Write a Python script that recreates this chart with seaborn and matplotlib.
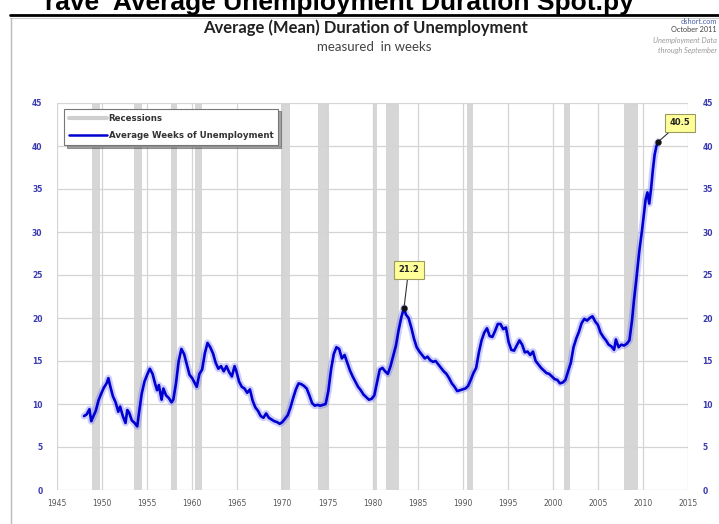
import matplotlib
matplotlib.use("Agg")
import matplotlib.pyplot as plt
from matplotlib.lines import Line2D
import seaborn as sns
import pandas as pd

# Average (mean) duration of unemployment, weeks
years = [
    1948.0, 1948.3, 1948.6, 1948.8, 1949.0, 1949.3, 1949.6, 1949.9, 1950.2, 1950.5,
    1950.7, 1950.9, 1951.2, 1951.5, 1951.8, 1952.0, 1952.3, 1952.6, 1952.8, 1953.0,
    1953.3, 1953.6, 1953.9, 1954.1, 1954.4, 1954.7, 1955.0, 1955.3, 1955.6, 1955.9,
    1956.1, 1956.3, 1956.6, 1956.8, 1957.1, 1957.4, 1957.7, 1957.9, 1958.2, 1958.5,
    1958.8, 1959.1, 1959.4, 1959.7, 1960.0, 1960.3, 1960.5, 1960.8, 1961.1, 1961.4,
    1961.7, 1962.0, 1962.3, 1962.6, 1962.9, 1963.2, 1963.5, 1963.8, 1964.1, 1964.4,
    1964.7, 1964.9, 1965.2, 1965.5, 1965.8, 1966.1, 1966.4, 1966.7, 1967.0, 1967.3,
    1967.6, 1967.9, 1968.2, 1968.5, 1968.8, 1969.1, 1969.4, 1969.7, 1970.0, 1970.3,
    1970.6, 1970.9, 1971.2, 1971.5, 1971.8, 1972.1, 1972.4, 1972.7, 1973.0, 1973.3,
    1973.6, 1973.9, 1974.2, 1974.5, 1974.8, 1975.1, 1975.4, 1975.7, 1976.0, 1976.3,
    1976.6, 1976.9, 1977.2, 1977.5, 1977.8, 1978.1, 1978.4, 1978.7, 1979.0, 1979.3,
    1979.6, 1979.9, 1980.2, 1980.5, 1980.8, 1981.1, 1981.4, 1981.7, 1982.0, 1982.3,
    1982.6, 1982.9, 1983.2, 1983.5, 1983.7, 1984.0, 1984.3, 1984.6, 1984.9, 1985.2,
    1985.5, 1985.8, 1986.1, 1986.4, 1986.7, 1987.0, 1987.3, 1987.6, 1987.9, 1988.2,
    1988.5, 1988.8, 1989.1, 1989.4, 1989.7, 1990.0, 1990.3, 1990.6, 1990.9, 1991.2,
    1991.5, 1991.8, 1992.1, 1992.4, 1992.7, 1993.0, 1993.3, 1993.6, 1993.9, 1994.2,
    1994.5, 1994.8, 1995.1, 1995.4, 1995.7, 1996.0, 1996.3, 1996.6, 1996.9, 1997.2,
    1997.5, 1997.8, 1998.1, 1998.4, 1998.7, 1999.0, 1999.3, 1999.6, 1999.9, 2000.2,
    2000.5, 2000.8, 2001.1, 2001.4, 2001.7, 2002.0, 2002.3, 2002.6, 2002.9, 2003.2,
    2003.5, 2003.8, 2004.1, 2004.4, 2004.7, 2005.0, 2005.3, 2005.6, 2005.9, 2006.2,
    2006.5, 2006.8, 2007.0, 2007.3, 2007.6, 2007.9, 2008.2, 2008.5, 2008.8, 2009.0,
    2009.3, 2009.6, 2009.9, 2010.1, 2010.3, 2010.5, 2010.7, 2010.9, 2011.1, 2011.3,
    2011.5, 2011.7,
]
weeks = [
    8.6, 8.8, 9.4, 8.0, 8.5, 9.2, 10.4, 11.2, 11.9, 12.4,
    13.0, 12.1, 10.9, 10.2, 9.1, 9.7, 8.6, 7.8, 9.3, 9.0,
    8.1, 7.8, 7.4, 9.0, 11.2, 12.6, 13.4, 14.1, 13.5, 12.3,
    11.6, 12.2, 10.5, 11.8, 11.0, 10.7, 10.2, 10.5, 12.4, 15.0,
    16.4, 15.8, 14.6, 13.4, 13.0, 12.4, 12.0, 13.5, 14.0, 15.9,
    17.1, 16.6, 15.9, 14.8, 14.1, 14.4, 13.8, 14.4, 13.7, 13.2,
    14.4, 13.8, 12.6, 12.0, 11.8, 11.3, 11.7, 10.4, 9.6, 9.2,
    8.6, 8.4, 8.9, 8.4, 8.2, 8.0, 7.9, 7.7, 7.9, 8.3,
    8.7, 9.6, 10.7, 11.7, 12.4, 12.3, 12.1, 11.8, 11.0, 10.1,
    9.8, 9.9, 9.8, 9.9, 10.0, 11.5, 14.0, 15.8, 16.6, 16.4,
    15.3, 15.7, 14.8, 13.9, 13.2, 12.6, 12.0, 11.6, 11.1, 10.8,
    10.5, 10.6, 11.0, 12.5, 14.0, 14.2, 13.8, 13.5, 14.4, 15.6,
    16.8, 18.6, 20.1, 21.2, 20.4, 20.0, 18.9, 17.6, 16.6, 16.1,
    15.7, 15.3, 15.5, 15.1, 14.9, 15.0, 14.6, 14.2, 13.8, 13.5,
    13.0, 12.4, 12.0, 11.5, 11.6, 11.7, 11.8, 12.1, 12.8, 13.6,
    14.2, 16.0, 17.4, 18.3, 18.8, 17.9, 17.8, 18.5, 19.3, 19.3,
    18.7, 18.9, 17.2, 16.3, 16.2, 16.8, 17.4, 16.9, 16.0, 16.1,
    15.7, 16.1, 15.0, 14.6, 14.2, 13.9, 13.6, 13.5, 13.2, 12.9,
    12.8, 12.4, 12.5, 12.8, 13.8, 14.8, 16.6, 17.6, 18.4, 19.4,
    19.9, 19.7, 20.0, 20.2, 19.6, 19.2, 18.3, 17.8, 17.4, 16.9,
    16.7, 16.3, 17.5, 16.6, 16.9, 16.8, 17.0, 17.4, 19.8, 22.0,
    24.8, 27.8, 30.2, 32.0, 33.8, 34.6, 33.3, 35.0, 37.2, 39.0,
    40.0, 40.5,
]

# NBER recessions (start, end)
recession_start = [1948.9, 1953.5, 1957.6, 1960.3, 1969.9, 1973.9, 1980.0, 1981.5, 1990.5, 2001.2, 2007.9]
recession_end = [1949.8, 1954.4, 1958.3, 1961.1, 1970.9, 1975.2, 1980.5, 1982.9, 1991.2, 2001.9, 2009.5]

x_ticks = list(range(1945, 2016, 5))
y_ticks = list(range(0, 46, 5))

# Labelled points
peak_1983 = (1983.5, 21.2)
last_point = (2011.7, 40.5)

df = pd.DataFrame({"year": years, "weeks": weeks})

sns.set_style("white")
plt.rcParams["font.family"] = ["DejaVu Sans"]

fig = plt.figure(figsize=(7.19, 5.24), dpi=100)
W, H = 719, 524


def fx(px):
    return px / W


def fy(py):
    return 1 - py / H


ax = fig.add_axes([fx(57), fy(490), fx(688) - fx(57), fy(103) - fy(490)])

# recession shading
for s, e in zip(recession_start, recession_end):
    ax.axvspan(s, e, color="#d6d6d6", lw=0, zorder=0.5)

# glow under the main line, then the line itself
sns.lineplot(data=df, x="year", y="weeks", ax=ax, color="#5a5aff", lw=5.0,
             alpha=0.3, zorder=3, legend=False)
sns.lineplot(data=df, x="year", y="weeks", ax=ax, color="#0000d0", lw=1.9,
             zorder=4, legend=False)

ax.set_xlim(1945, 2015)
ax.set_ylim(0, 45)
ax.set_xticks(x_ticks)
ax.set_yticks(y_ticks)
ax.set_xlabel("")
ax.set_ylabel("")
ax.grid(True, color="#d4d4d4", lw=0.9, zorder=0)
ax.set_axisbelow(True)
for sp in ax.spines.values():
    sp.set_visible(False)

ax.tick_params(axis="y", which="both", left=False, right=False,
               labelleft=True, labelright=True, labelsize=5.5,
               labelcolor="#3b3bb0", pad=7)
ax.tick_params(axis="x", bottom=False, labelsize=5.5, labelcolor="#555555", pad=3)
for lab in ax.get_yticklabels():
    lab.set_fontweight("bold")

# annotations
for (px, py), txt, off in [(peak_1983, "21.2", (1984.0, 25.6)),
                           (last_point, "40.5", (2014.1, 42.7))]:
    ax.plot([px], [py], "o", color="#111111", ms=3.5, zorder=6)
    ax.annotate(txt, xy=(px, py), xytext=off, ha="center", va="center",
                fontsize=6, fontweight="bold", color="#222222", zorder=7,
                bbox=dict(boxstyle="square,pad=0.55", fc="#ffff99", ec="#9a9a60", lw=0.8),
                arrowprops=dict(arrowstyle="-", color="#333333", lw=0.8,
                                shrinkA=0, shrinkB=2))

# legend
handles = [Line2D([], [], color="#cfcfcf", lw=3),
           Line2D([], [], color="#0000d0", lw=1.8)]
leg = ax.legend(handles, ["Recessions", "Average Weeks of Unemployment"],
                loc="upper left", bbox_to_anchor=(0.008, 0.99), fontsize=6.2,
                frameon=True, fancybox=False, shadow=True, handlelength=4.4,
                borderpad=0.6, labelspacing=0.95, handletextpad=0.2,
                borderaxespad=0.2)
leg.get_frame().set_edgecolor("#777777")
leg.get_frame().set_linewidth(0.8)
for t in leg.get_texts():
    t.set_fontweight("bold")
    t.set_color("#333333")
leg.set_zorder(8)

# titles
fig.text(fx(365), fy(28), "Average (Mean) Duration of Unemployment", ha="center",
         va="center", fontsize=12, fontweight="bold", color="#222222",
         family=["Lato", "DejaVu Sans"])
fig.text(fx(374), fy(47), "measured  in weeks", ha="center", va="center",
         fontsize=9.5, color="#444444", family=["Lato", "DejaVu Sans"])

# source notes, top right
notes = [("dshort.com", "#4a5fa8", 21), ("October 2011", "#444444", 30),
         ("Unemployment Data", "#9a9a9a", 40), ("through September", "#9a9a9a", 50)]
for txt, col, py in notes:
    fig.text(fx(717), fy(py), txt, ha="right", va="center", fontsize=5.3,
             color=col, style="italic" if col == "#9a9a9a" else "normal",
             family=["Lato", "DejaVu Sans"])

# page heading above the panel
fig.text(fx(45), fy(10), "rave  Average Unemployment Duration Spot.py", ha="left",
         va="baseline", fontsize=19, fontweight="bold", color="black",
         family=["Liberation Sans", "DejaVu Sans"])

# panel frame
fig.add_artist(Line2D([fx(10), 1], [fy(14.5), fy(14.5)], color="black", lw=2))
fig.add_artist(Line2D([fx(10), 1], [fy(17.5), fy(17.5)], color="#cccccc", lw=0.8))
fig.add_artist(Line2D([fx(10.5), fx(10.5)], [fy(17.5), 0], color="#bbbbbb", lw=1.0))

fig.savefig("out.png", dpi=100)
